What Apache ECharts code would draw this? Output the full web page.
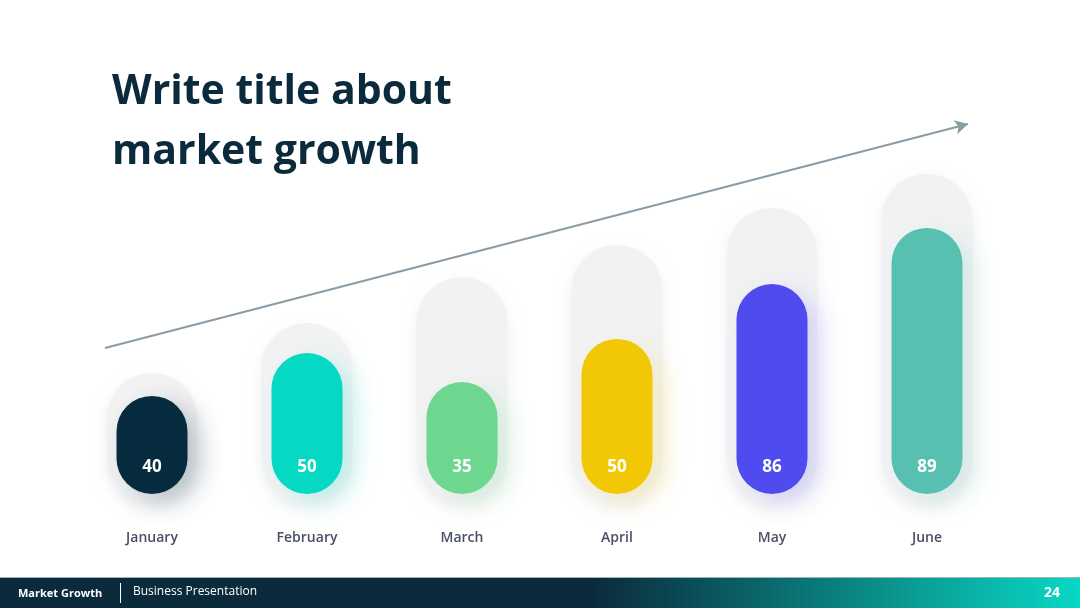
<!DOCTYPE html>
<html>
<head>
<meta charset="utf-8">
<style>
  html, body { margin: 0; padding: 0; background: #ffffff; }
  #chart { width: 1080px; height: 608px; }
</style>
<script src="https://cdn.jsdelivr.net/npm/echarts@6/dist/echarts.min.js"></script>
</head>
<body>
<div id="chart"></div>
<script>
// Months along the bottom
var months = ['January', 'February', 'March', 'April', 'May', 'June'];
// Numbers printed inside the bars
var labelValues = [40, 50, 35, 50, 86, 89];
// Visual height of each coloured bar (0-120 scale)
var barHeights = [32.7, 47, 37.3, 51.7, 70, 88.7];
// Visual height of the grey track behind each bar
var trackHeights = [43.3, 60, 75.3, 86, 98.3, 109.7];
var barColors = ['#062b3e', '#05d8c3', '#6dd68f', '#f2c806', '#4f4bef', '#58c0b0'];
var glowColors = ['rgba(6,43,62,0.25)', 'rgba(5,216,195,0.22)', 'rgba(109,214,143,0.22)',
                  'rgba(242,200,6,0.2)', 'rgba(79,75,239,0.2)', 'rgba(88,192,176,0.2)'];

var chart = echarts.init(document.getElementById('chart'));
var font = '"Open Sans", "Noto Sans", sans-serif';

var option = {
    backgroundColor: '#ffffff',
    animation: false,
    title: {
        text: 'Write title about\nmarket growth',
        left: 107,
        top: 57,
        textStyle: {
            fontFamily: font,
            fontSize: 41,
            fontWeight: 'bold',
            color: '#0b2b3d',
            lineHeight: 60
        }
    },
    grid: [
        // grey tracks
        { left: 74.5, right: 75.5, top: 143, bottom: 105 },
        // coloured bars
        { left: 74.5, right: 75.5, top: 134, bottom: 114 }
    ],
    xAxis: [
        {
            type: 'category', gridIndex: 0, data: months,
            axisLine: { show: false }, axisTick: { show: false },
            axisLabel: {
                margin: 28, color: '#4b4f66', fontSize: 14,
                fontWeight: 600, fontFamily: font
            }
        },
        {
            type: 'category', gridIndex: 1, data: months, show: false
        }
    ],
    yAxis: [
        { type: 'value', gridIndex: 0, min: 0, max: 120, show: false },
        { type: 'value', gridIndex: 1, min: 0, max: 120, show: false }
    ],
    series: [
        {
            name: 'track',
            type: 'bar',
            xAxisIndex: 0, yAxisIndex: 0,
            barWidth: 91,
            silent: true,
            data: trackHeights,
            itemStyle: {
                color: '#f2f2f3',
                borderRadius: 45.5,
                shadowColor: 'rgba(0,0,0,0.06)',
                shadowBlur: 14,
                shadowOffsetY: 6
            },
            markLine: {
                silent: true,
                symbol: ['none', 'arrow'],
                symbolSize: [11, 13],
                label: { show: false },
                lineStyle: { color: '#8b9ba5', width: 2, type: 'solid' },
                data: [[{ x: 105, y: 348 }, { x: 968, y: 124 }]]
            }
        },
        {
            name: 'value',
            type: 'bar',
            xAxisIndex: 1, yAxisIndex: 1,
            barWidth: 71,
            data: barHeights.map(function(v, i) {
                return {
                    value: v,
                    itemStyle: {
                        color: barColors[i],
                        shadowColor: glowColors[i],
                        shadowBlur: 26,
                        shadowOffsetX: 12,
                        shadowOffsetY: 8
                    }
                };
            }),
            itemStyle: { borderRadius: 35.5 },
            label: {
                show: true,
                position: 'insideBottom',
                distance: 18,
                color: '#ffffff',
                fontSize: 17,
                fontWeight: 'bold',
                fontFamily: font,
                formatter: function(p) { return labelValues[p.dataIndex]; }
            }
        }
    ],
    graphic: [
        {
            type: 'rect',
            shape: { x: 0, y: 578, width: 1080, height: 30 },
            style: {
                fill: new echarts.graphic.LinearGradient(0, 0, 1, 0, [
                    { offset: 0, color: '#0b2b3d' },
                    { offset: 0.55, color: '#0b2b3d' },
                    { offset: 0.8, color: '#0a8a85' },
                    { offset: 1, color: '#08d8c6' }
                ])
            }
        },
        {
            type: 'rect',
            shape: { x: 0, y: 577, width: 1080, height: 1 },
            style: { fill: '#9fb3bb' }
        },
        {
            type: 'text', left: 18, top: 588,
            style: { text: 'Market Growth', fill: '#ffffff', font: 'bold 11px ' + font }
        },
        {
            type: 'line',
            shape: { x1: 120.5, y1: 583, x2: 120.5, y2: 603 },
            style: { stroke: '#ffffff', lineWidth: 1 }
        },
        {
            type: 'text', left: 133, top: 586,
            style: { text: 'Business Presentation', fill: '#ffffff', font: '12px ' + font }
        },
        {
            type: 'text', right: 20, top: 586,
            style: { text: '24', fill: '#ffffff', font: 'bold 14px ' + font }
        }
    ]
};

chart.setOption(option);
</script>
</body>
</html>
